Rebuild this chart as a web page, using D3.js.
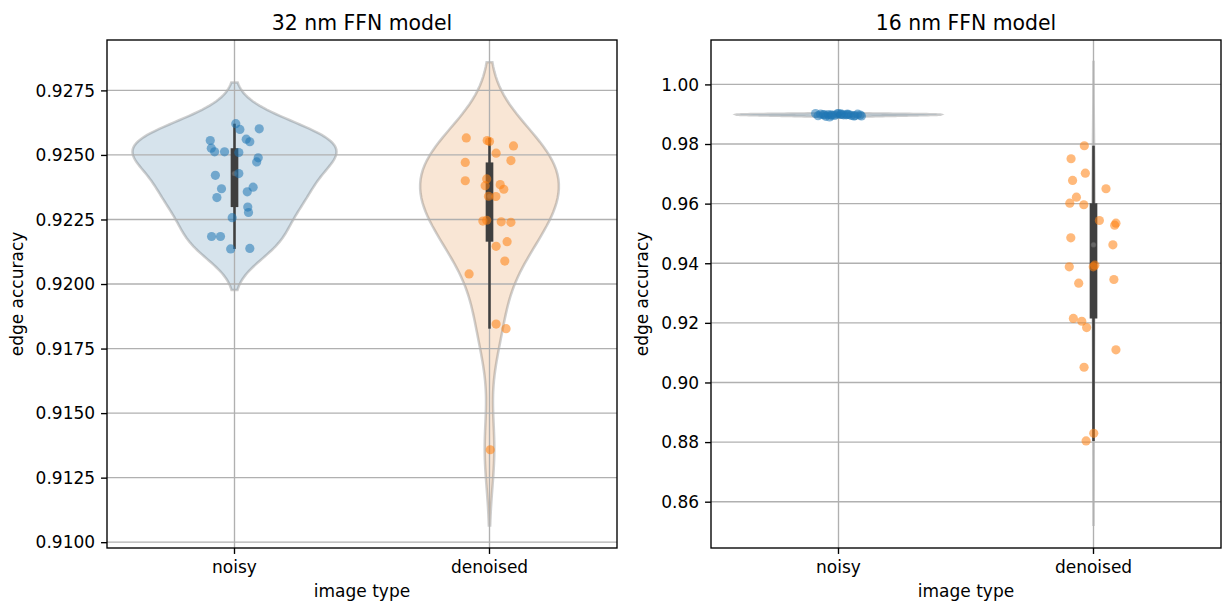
<!DOCTYPE html>
<html>
<head>
<meta charset="utf-8">
<script src="https://cdn.jsdelivr.net/npm/d3@7"></script>
<style>
  html, body { margin: 0; padding: 0; background: #fff; }
  svg { display: block; }
  text { font-family: "DejaVu Sans", sans-serif; fill: #000; }
</style>
</head>
<body>
<svg id="chart" width="1225" height="606"></svg>
<script>
// ---------------- data ----------------
const categories = ["noisy", "denoised"];
const panelTitles = ["32 nm FFN model", "16 nm FFN model"];
const xLabel = "image type";
const yLabel = "edge accuracy";

// 32 nm model
const noisy32 = [0.92621, 0.92599, 0.92601, 0.92556, 0.92561, 0.92551, 0.92526, 0.92512, 0.92512, 0.92509,
  0.92489, 0.92473, 0.92421, 0.92428, 0.92369, 0.92335, 0.92375, 0.92357, 0.92298, 0.92277,
  0.92257, 0.92184, 0.92184, 0.92136, 0.92138];
const noisy32Jitter = [0.005, 0.021, 0.097, -0.095, 0.046, 0.060, -0.091, -0.078, -0.039, 0.017,
  0.093, 0.087, -0.075, 0.017, -0.051, -0.069, 0.073, 0.050, 0.052, 0.055,
  -0.009, -0.090, -0.055, -0.015, 0.060];
const denoised32 = [0.92566, 0.92556, 0.92552, 0.92535, 0.92507, 0.92471, 0.92478, 0.92407, 0.92400, 0.92381,
  0.92385, 0.92367, 0.92340, 0.92339, 0.92244, 0.92247, 0.92241, 0.92239, 0.92164, 0.92146,
  0.92089, 0.92039, 0.91845, 0.91827, 0.91358];
const denoised32Jitter = [-0.091, -0.009, 0.000, 0.094, 0.026, -0.095, 0.084, -0.011, -0.095, -0.017,
  0.042, 0.056, -0.004, 0.025, -0.026, -0.011, 0.046, 0.084, 0.069, 0.026,
  0.060, -0.080, 0.026, 0.065, 0.003];

// 16 nm model
const noisy16 = [0.9899, 0.9897, 0.9901, 0.9895, 0.9899, 0.9893, 0.9900, 0.9896, 0.9898, 0.9902,
  0.9894, 0.9899, 0.9897, 0.9900, 0.9891, 0.9898, 0.9896, 0.9901, 0.9899, 0.9895,
  0.9897, 0.9900, 0.9898, 0.9894, 0.9902];
const noisy16Jitter = [-0.060, -0.030, 0.010, -0.080, 0.040, -0.050, 0.075, -0.015, 0.020, -0.090,
  0.060, -0.040, 0.085, -0.070, -0.035, 0.030, 0.050, -0.005, 0.010, 0.065,
  -0.025, 0.035, -0.055, 0.090, 0.000];
const denoised16 = [0.97942, 0.97506, 0.97022, 0.96777, 0.96499, 0.96217, 0.96015, 0.95962, 0.95434, 0.95344,
  0.95277, 0.94854, 0.94619, 0.93934, 0.93880, 0.93880, 0.93454, 0.93330, 0.92150, 0.92054,
  0.91842, 0.91094, 0.90510, 0.88294, 0.88039];
const denoised16Jitter = [-0.036, -0.088, -0.032, -0.082, 0.049, -0.067, -0.093, -0.038, 0.023, 0.088,
  0.083, -0.089, 0.076, 0.005, -0.001, -0.095, 0.080, -0.058, -0.079, -0.046,
  -0.027, 0.088, -0.037, 0.001, -0.029];

const ticks32 = [0.9100, 0.9125, 0.9150, 0.9175, 0.9200, 0.9225, 0.9250, 0.9275];
const ticks16 = [0.86, 0.88, 0.90, 0.92, 0.94, 0.96, 0.98, 1.00];

// ---------------- styles ----------------
const violinFill = ["#3274a1", "#e1812c"];
const pointColor = ["#1f77b4", "#ff7f0e"];
const gray = "#3f3f3f";

const panels = [
  { title: panelTitles[0], x0: 107, x1: 617, domain: [0.909775, 0.929452], ticks: ticks32, fmt: d3.format(".4f"),
    series: [{ v: noisy32, j: noisy32Jitter }, { v: denoised32, j: denoised32Jitter }], ylabX: 23 },
  { title: panelTitles[1], x0: 711, x1: 1221, domain: [0.844467, 1.014896], ticks: ticks16, fmt: d3.format(".2f"),
    series: [{ v: noisy16, j: noisy16Jitter }, { v: denoised16, j: denoised16Jitter }], ylabX: 648 }
];
const plotTop = 40, plotBottom = 548;
const pt = 1.7014; // px per point
const tickLen = 3.5 * pt, tickPad = 3.5 * pt;

const svg = d3.select("#chart");

function kde(data) {
  const n = data.length;
  const sd = d3.deviation(data);
  const bw = Math.pow(n, -0.2) * sd;
  const lo = d3.min(data) - 2 * bw, hi = d3.max(data) + 2 * bw;
  const grid = d3.range(100).map(i => lo + (hi - lo) * i / 99);
  const c = 1 / (n * bw * Math.sqrt(2 * Math.PI));
  return grid.map(x => [x, c * d3.sum(data, xi => Math.exp(-0.5 * ((x - xi) / bw) ** 2))]);
}

panels.forEach(p => {
  const g = svg.append("g");
  const x = d3.scaleBand().domain(categories).range([p.x0, p.x1]).paddingInner(0).paddingOuter(0);
  const y = d3.scaleLinear().domain(p.domain).range([plotBottom, plotTop]);
  const bwid = x.bandwidth();
  const cx = c => x(c) + bwid / 2;

  const clipId = "clip" + p.x0;
  svg.append("clipPath").attr("id", clipId).append("rect")
    .attr("x", p.x0).attr("y", plotTop).attr("width", p.x1 - p.x0).attr("height", plotBottom - plotTop);
  const plot = g.append("g").attr("clip-path", `url(#${clipId})`);

  // violins
  const dens = p.series.map(s => kde(s.v));
  const maxD = d3.max(dens, d => d3.max(d, e => e[1]));
  dens.forEach((d, i) => {
    const c = cx(categories[i]);
    const area = d3.area()
      .y(e => y(e[0]))
      .x0(e => c - e[1] / maxD * 0.4 * bwid)
      .x1(e => c + e[1] / maxD * 0.4 * bwid);
    plot.append("path").attr("d", area(d))
      .attr("fill", violinFill[i]).attr("fill-opacity", 0.2)
      .attr("stroke", gray).attr("stroke-opacity", 0.25).attr("stroke-width", 1.5 * pt);
  });

  // grid
  p.ticks.forEach(t => {
    plot.append("line").attr("x1", p.x0).attr("x2", p.x1).attr("y1", y(t)).attr("y2", y(t))
      .attr("stroke", "#b0b0b0").attr("stroke-width", 0.8 * pt);
  });
  categories.forEach(c => {
    plot.append("line").attr("x1", cx(c)).attr("x2", cx(c)).attr("y1", plotTop).attr("y2", plotBottom)
      .attr("stroke", "#b0b0b0").attr("stroke-width", 0.8 * pt);
  });

  // inner boxes
  p.series.forEach((s, i) => {
    const c = cx(categories[i]);
    const sorted = s.v.slice().sort(d3.ascending);
    const q1 = d3.quantile(sorted, 0.25), q2 = d3.quantile(sorted, 0.5), q3 = d3.quantile(sorted, 0.75);
    const lim = 1.5 * (q3 - q1);
    const h1 = d3.min(sorted.filter(v => v >= q1 - lim));
    const h2 = d3.max(sorted.filter(v => v <= q3 + lim));
    plot.append("line").attr("x1", c).attr("x2", c).attr("y1", y(h1)).attr("y2", y(h2))
      .attr("stroke", gray).attr("stroke-width", 1.5 * pt);
    plot.append("line").attr("x1", c).attr("x2", c).attr("y1", y(q1)).attr("y2", y(q3))
      .attr("stroke", gray).attr("stroke-width", 4.5 * pt);
    plot.append("circle").attr("cx", c).attr("cy", y(q2)).attr("r", 1.5 * pt)
      .attr("fill", "#666").attr("stroke", "#555").attr("stroke-width", 0.5);
  });

  // points
  p.series.forEach((s, i) => {
    const c = cx(categories[i]);
    plot.selectAll(null).data(s.v.map((v, k) => [v, s.j[k]])).enter().append("circle")
      .attr("cx", d => c + d[1] * bwid).attr("cy", d => y(d[0])).attr("r", 4.6)
      .attr("fill", pointColor[i]).attr("fill-opacity", 0.55);
  });

  // frame
  g.append("rect").attr("x", p.x0).attr("y", plotTop).attr("width", p.x1 - p.x0).attr("height", plotBottom - plotTop)
    .attr("fill", "none").attr("stroke", "#000").attr("stroke-width", 0.8 * pt);

  // y axis
  const yAxis = d3.axisLeft(y).tickValues(p.ticks).tickFormat(p.fmt).tickSize(tickLen).tickPadding(tickPad);
  const ya = g.append("g").attr("transform", `translate(${p.x0},0)`).call(yAxis);
  ya.select(".domain").remove();
  ya.selectAll(".tick line").attr("stroke", "#000").attr("stroke-width", 0.8 * pt);
  ya.selectAll(".tick text").attr("font-size", 17).attr("font-family", "DejaVu Sans").attr("fill", "#000").attr("dy", "0.34em");

  // x axis
  const xAxis = d3.axisBottom(x).tickSize(tickLen).tickPadding(tickPad);
  const xa = g.append("g").attr("transform", `translate(0,${plotBottom})`).call(xAxis);
  xa.select(".domain").remove();
  xa.selectAll(".tick line").attr("stroke", "#000").attr("stroke-width", 0.8 * pt);
  xa.selectAll(".tick text").attr("font-size", 17).attr("font-family", "DejaVu Sans").attr("fill", "#000")
    .attr("y", tickLen + tickPad).attr("dy", "0.76em");

  // labels
  g.append("text").attr("x", (p.x0 + p.x1) / 2).attr("y", 597).attr("text-anchor", "middle")
    .attr("font-size", 17).text(xLabel);
  g.append("text").attr("transform", `translate(${p.ylabX},${(plotTop + plotBottom) / 2}) rotate(-90)`)
    .attr("text-anchor", "middle").attr("font-size", 17).text(yLabel);
  g.append("text").attr("x", (p.x0 + p.x1) / 2).attr("y", 29.8).attr("text-anchor", "middle")
    .attr("font-size", 20.4).text(p.title);
});
</script>
</body>
</html>
